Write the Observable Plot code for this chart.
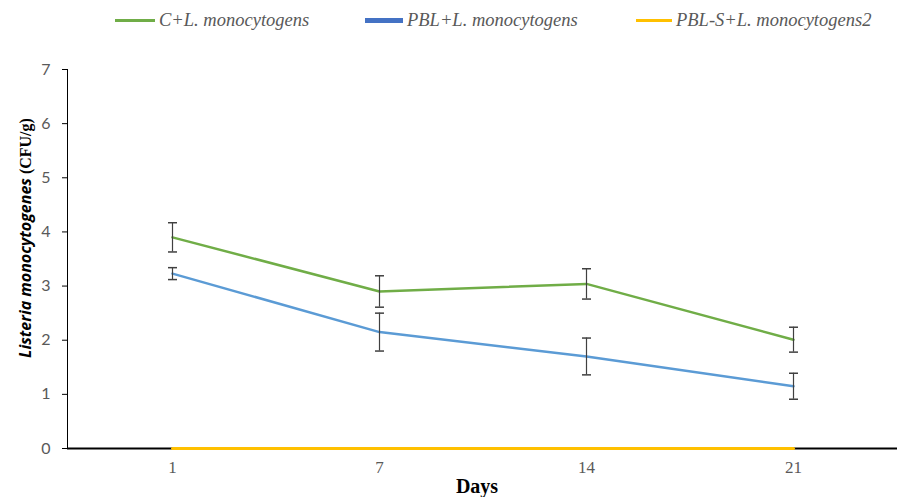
<!DOCTYPE html>
<html><head><meta charset="utf-8">
<script src="https://cdn.jsdelivr.net/npm/d3@7"></script>
<script src="https://cdn.jsdelivr.net/npm/@observablehq/plot@0.6"></script>
<style>
body{margin:0;background:#fff;width:898px;height:497px;overflow:hidden;position:relative}
#legend{position:absolute;top:0;left:0;width:898px;height:40px}
.li{position:absolute;top:10px;display:flex;align-items:center;font-family:"Liberation Serif",serif;font-style:italic;font-size:18.5px;color:#595959}
.sw{display:inline-block;margin-right:4px}
#chart{position:absolute;top:40px;left:0}
svg text{fill:#595959}
g[aria-label^="x-axis"] text{font-family:"Liberation Serif",serif;font-size:17px}
g[aria-label^="y-axis"] text{font-family:Lato,"Open Sans",sans-serif;font-size:16px}
</style>
</head><body>
<div id="legend"></div>
<div id="chart"></div>
<script>
const days = ["1","7","14","21"];
const seriesNames = ["C+L. monocytogens","PBL+L. monocytogens","PBL-S+L. monocytogens2"];
const seriesColors = ["#70AD47","#5B9BD5","#FFC000"];
const legendColors = ["#70AD47","#4472C4","#FFC000"];
const cValues = [3.90, 2.90, 3.04, 2.01];
const cErrors = [0.27, 0.29, 0.28, 0.23];
const pblValues = [3.23, 2.15, 1.70, 1.15];
const pblErrors = [0.11, 0.35, 0.34, 0.24];
const pblsValues = [0, 0, 0, 0];
const yTicks = [0,1,2,3,4,5,6,7];

const rows = [];
days.forEach((d,i)=>{
  rows.push({day:d, s:seriesNames[0], v:cValues[i], e:cErrors[i]});
  rows.push({day:d, s:seriesNames[1], v:pblValues[i], e:pblErrors[i]});
  rows.push({day:d, s:seriesNames[2], v:pblsValues[i], e:0});
});
const errRows = rows.filter(r=>r.e>0);
const cap = {draw(ctx){ ctx.moveTo(-4.5,0); ctx.lineTo(4.5,0); }};

const chart = Plot.plot({
  width: 898, height: 457,
  marginTop: 29, marginBottom: 49, marginLeft: 67, marginRight: 1,
  style:{background:"transparent", overflow:"visible"},
  x:{type:"point", domain:days, padding:0.5, tickSize:0, tickPadding:12, label:null},
  y:{domain:[0,7], ticks:yTicks, tickFormat:d=>d, tickSize:5, tickPadding:12, label:null, line:true},
  color:{domain:seriesNames, range:seriesColors},
  marks:[
    Plot.ruleY([0], {stroke:"#000", strokeWidth:2}),
    Plot.line(rows.filter(r=>r.s!==seriesNames[2]), {x:"day", y:"v", z:"s", stroke:"s", strokeWidth:2.5}),
    Plot.line(rows.filter(r=>r.s===seriesNames[2]), {x:"day", y:"v", stroke:"s", strokeWidth:3}),
    Plot.ruleX(errRows, {x:"day", y1:d=>d.v-d.e, y2:d=>d.v+d.e, stroke:"#404040", strokeWidth:1.2}),
    Plot.dot(errRows, {x:"day", y:d=>d.v+d.e, symbol:cap, stroke:"#404040", strokeWidth:1.5, fill:"none"}),
    Plot.dot(errRows, {x:"day", y:d=>d.v-d.e, symbol:cap, stroke:"#404040", strokeWidth:1.5, fill:"none"})
  ]
});
document.getElementById("chart").appendChild(chart);

// y-axis title with mixed styling
const svg = d3.select(chart);
const t = svg.append("text")
  .attr("transform","translate(27,198) rotate(-90)")
  .attr("text-anchor","middle").attr("dominant-baseline","middle")
  .style("fill","#000");
t.append("tspan").text("Listeria monocytogenes").style("font-family","'Open Sans',sans-serif").style("font-style","italic").style("font-weight","bold").style("font-size","16px").style("fill","#000");
t.append("tspan").text(" (CFU/g)").style("font-family","'Liberation Serif',serif").style("font-weight","bold").style("font-size","16px").style("fill","#000");
svg.append("text").attr("x",477).attr("y",453).attr("text-anchor","middle")
  .style("font-family","'Liberation Serif',serif").style("font-weight","bold").style("font-size","20px").style("fill","#000").text("Days");

// legend
const lg = document.getElementById("legend");
const pos = [115, 365, 636];
const widths = [40, 38, 36];
const thick = [3, 5, 3];
seriesNames.forEach((n,i)=>{
  const li = document.createElement("div"); li.className="li"; li.style.left=pos[i]+"px";
  const sw = document.createElement("span"); sw.className="sw";
  sw.style.width=widths[i]+"px"; sw.style.height=thick[i]+"px"; sw.style.background=legendColors[i];
  const tx = document.createElement("span"); tx.textContent=n;
  li.appendChild(sw); li.appendChild(tx); lg.appendChild(li);
});
</script>
</body></html>
